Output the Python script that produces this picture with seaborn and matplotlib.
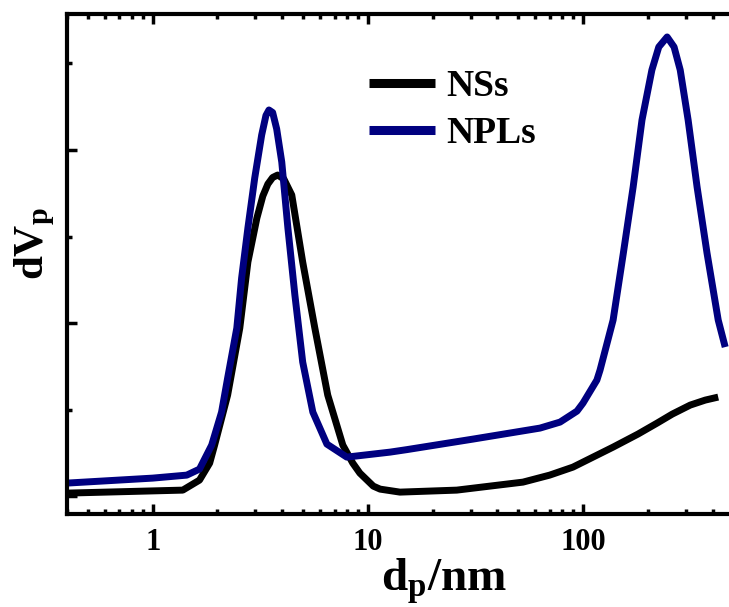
import numpy as np
import pandas as pd
import seaborn as sns
import matplotlib
matplotlib.use("Agg")
import matplotlib.pyplot as plt
from matplotlib.ticker import FixedLocator, FixedFormatter, NullFormatter, LogLocator

# particle diameter (nm) and volume distribution (a.u.)
ns_dp = [0.398, 1.38, 1.65, 1.84, 1.94, 2.23, 2.54, 2.77, 3.05, 3.25, 3.43, 3.61, 3.81, 4.07,
         4.43, 4.98, 5.67, 6.51, 7.65, 8.51, 9.18, 10.6, 11.4, 14.1, 25.9, 52.6, 70, 89.8,
         138, 180, 221, 260, 315, 370, 425]
ns_dv = [0.042, 0.048, 0.068, 0.102, 0.138, 0.238, 0.372, 0.504, 0.592, 0.636, 0.660, 0.673, 0.678, 0.670,
         0.638, 0.504, 0.372, 0.238, 0.138, 0.102, 0.082, 0.056, 0.050, 0.044, 0.048, 0.064, 0.078, 0.094,
         0.134, 0.160, 0.182, 0.200, 0.218, 0.228, 0.234]

npl_dp = [0.398, 1.0, 1.44, 1.65, 1.88, 2.09, 2.23, 2.46, 2.59, 2.77, 2.98, 3.21, 3.36, 3.47,
          3.61, 3.77, 3.98, 4.25, 4.58, 4.98, 5.55, 6.45, 7.98, 12.7, 15.2, 30.8, 63.1, 78.2,
          93.8, 100, 116, 120, 138, 154, 171, 188, 209, 225, 246, 265, 283, 308, 339, 377,
          425, 458]
npl_dv = [0.062, 0.072, 0.078, 0.090, 0.138, 0.204, 0.272, 0.372, 0.472, 0.572, 0.672, 0.758, 0.797, 0.808,
          0.803, 0.770, 0.704, 0.572, 0.438, 0.304, 0.204, 0.140, 0.114, 0.124, 0.129, 0.150, 0.172, 0.184,
          0.206, 0.222, 0.268, 0.288, 0.388, 0.522, 0.654, 0.788, 0.888, 0.934, 0.954, 0.934, 0.888, 0.788,
          0.654, 0.522, 0.388, 0.334]

series = ["NSs", "NPLs"]
colors = {"NSs": "black", "NPLs": "#000080"}

df = pd.concat([
    pd.DataFrame({"dp": ns_dp, "dv": ns_dv, "sample": "NSs"}),
    pd.DataFrame({"dp": npl_dp, "dv": npl_dv, "sample": "NPLs"}),
])

sns.set_style("ticks")
plt.rcParams["font.family"] = ["Liberation Serif", "DejaVu Serif"]
plt.rcParams["font.weight"] = "bold"
plt.rcParams["mathtext.fontset"] = "custom"
plt.rcParams["mathtext.rm"] = "Liberation Serif:bold"
plt.rcParams["mathtext.bf"] = "Liberation Serif:bold"
plt.rcParams["mathtext.it"] = "Liberation Serif:bold"
plt.rcParams["lines.solid_joinstyle"] = "round"
plt.rcParams["lines.solid_capstyle"] = "butt"
for k in ["text.color", "axes.labelcolor", "xtick.color", "ytick.color"]:
    plt.rcParams[k] = "black"

fig = plt.figure(figsize=(7.29, 6.07), dpi=100)
ax = fig.add_axes([0.092, 0.153, 0.908, 0.824])

sns.lineplot(data=df, x="dp", y="dv", hue="sample", hue_order=series,
             palette=colors, linewidth=5, sort=False, ax=ax)

ax.set_xscale("log")
ax.set_xlim(0.4, 477)
ax.set_ylim(0, 1)

ax.xaxis.set_major_locator(FixedLocator([1, 10, 100]))
ax.xaxis.set_major_formatter(FixedFormatter(["1", "10", "100"]))
ax.xaxis.set_minor_locator(LogLocator(base=10, subs=np.arange(2, 10)))
ax.xaxis.set_minor_formatter(NullFormatter())
ax.yaxis.set_major_locator(FixedLocator([0.036, 0.382, 0.728]))
ax.yaxis.set_minor_locator(FixedLocator([0.209, 0.555, 0.901]))
ax.set_yticklabels([])

ax.tick_params(which="both", direction="in", top=True, right=False, width=2.5)
ax.tick_params(which="major", length=7, labelsize=22, pad=10)
ax.tick_params(which="minor", length=3.5)
for lab in ax.get_xticklabels():
    lab.set_fontweight("bold")

for side in ["left", "bottom", "top"]:
    ax.spines[side].set_linewidth(3)
    ax.spines[side].set_color("black")
ax.spines["right"].set_visible(False)

ax.set_xlabel(r"$\mathbf{d_{p}/nm}$", fontsize=34)
ax.xaxis.set_label_coords(0.57, -0.085)
ax.set_ylabel(r"$\mathbf{dV_{p}}$", fontsize=31)
ax.yaxis.set_label_coords(-0.015, 0.54)

leg = ax.legend(loc="upper left", bbox_to_anchor=(0.405, 0.958), frameon=False,
                fontsize=27, handlelength=1.75, handletextpad=0.3, labelspacing=0.33)
for line in leg.get_lines():
    line.set_linewidth(6.5)

fig.savefig("out.png", dpi=100)
